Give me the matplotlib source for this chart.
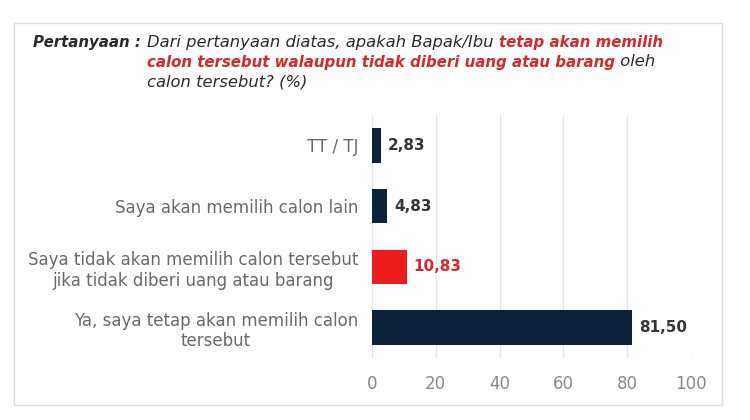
import matplotlib
matplotlib.use("Agg")
import matplotlib.pyplot as plt
from matplotlib.patches import Rectangle

plt.rcParams['font.family'] = ['DejaVu Sans']

# data
kategori = ['TT / TJ',
            'Saya akan memilih calon lain',
            'Saya tidak akan memilih calon tersebut\njika tidak diberi uang atau barang',
            'Ya, saya tetap akan memilih calon\ntersebut']
nilai = [2.83, 4.83, 10.83, 81.50]
label_nilai = ['2,83', '4,83', '10,83', '81,50']
warna = ['#0b2238', '#0b2238', '#ee1c1c', '#0b2238']
warna_label = ['#363636', '#363636', '#e0262b', '#363636']
xticks = [0, 20, 40, 60, 80, 100]

fig = plt.figure(figsize=(7.5, 4.2), dpi=100)
fig.patch.set_facecolor('white')

# bingkai
fig.patches.append(Rectangle((14 / 750, 1 - 405 / 420), 708 / 750, 382 / 420,
                             transform=fig.transFigure, fill=False,
                             edgecolor='#dddddd', linewidth=1))

ax = fig.add_axes([372 / 750, 1 - 358 / 420, 319 / 750, 243 / 420])
y = list(range(len(kategori)))
ax.barh(y, nilai, height=0.57, color=warna, zorder=3)
for i, v in enumerate(nilai):
    ax.text(v + 2.2, i, label_nilai[i], va='center', ha='left', fontsize=11,
            fontweight='bold', color=warna_label[i])
ax.set_ylim(3.5, -0.5)
ax.set_xlim(0, 100)
ax.set_yticks(y)
ax.set_yticklabels(kategori, fontsize=12, color='#6a6a6a', ha='right',
                   multialignment='center', linespacing=1.2)
ax.set_xticks(xticks)
ax.set_xticklabels([str(t) for t in xticks], fontsize=12, color='#888888')
ax.tick_params(axis='both', length=0)
ax.tick_params(axis='y', pad=10)
ax.tick_params(axis='x', pad=12)
ax.grid(axis='x', color='#e6e6e6', linewidth=1, zorder=0)
for s in ax.spines.values():
    s.set_visible(False)

# judul pertanyaan dengan bagian berwarna
fig.canvas.draw()
r = fig.canvas.get_renderer()
warna_teks = '#2b2b2b'
merah = '#d42a2a'


def tulis(x, ypix, potongan):
    for teks, bold, col in potongan:
        t = fig.text(x / 750, 1 - ypix / 420, teks,
                     fontsize=10.8 if bold else 11.8, style='italic',
                     fontweight='bold' if bold else 'normal', color=col,
                     va='center', ha='left')
        x += t.get_window_extent(r).width


tulis(33, 42, [('Pertanyaan :', True, warna_teks)])
tulis(147, 42, [('Dari pertanyaan diatas, apakah Bapak/Ibu ', False, warna_teks),
                ('tetap akan memilih', True, merah)])
tulis(147, 62, [('calon tersebut walaupun tidak diberi uang atau barang', True, merah),
                (' oleh', False, warna_teks)])
tulis(147, 82, [('calon tersebut? (%)', False, warna_teks)])

plt.savefig('out.png', dpi=100)
